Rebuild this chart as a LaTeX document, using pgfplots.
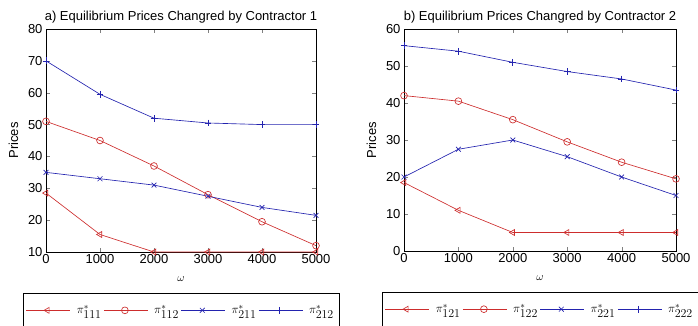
\documentclass[border=0pt]{standalone}
\usepackage{fontspec}
\setmainfont{Liberation Sans}
\usepackage{pgfplots}
\pgfplotsset{compat=1.18}
\definecolor{mred}{RGB}{205,45,45}
\definecolor{mblue}{RGB}{35,35,175}
\newcommand{\lp}[1]{$\pi^{*}_{\textstyle #1}$}
\pgfplotsset{
  mstyle/.style={
    scale only axis,
    xmin=0, xmax=5000,
    xtick={0,1000,2000,3000,4000,5000},
    scaled ticks=false,
    /pgf/number format/assume math mode=true,
    /pgf/number format/1000 sep={},
    tick label style={font=\fontsize{13}{15}\selectfont},
    xticklabel style={yshift=1pt},
    label style={font=\fontsize{13}{15}\selectfont},
    title style={font=\fontsize{13}{15}\selectfont, yshift=-4pt},
    tick align=inside,
    major tick length=4pt,
    xtick pos=both, ytick pos=both,
    axis line style={black, line width=0.6pt},
    xlabel={$\omega$},
    ylabel={Prices},
    xlabel style={yshift=-6pt, font=\fontsize{11}{13}\selectfont},
    ylabel style={yshift=3pt},
    every axis plot/.append style={line width=0.65pt, mark size=3.4pt},
    legend columns=4,
    legend style={
      at={(0.5,-0.184)}, anchor=north,
      draw=black, line width=0.6pt,
      font=\fontsize{12.5}{15}\selectfont,
      inner ysep=10pt, inner xsep=3pt,
      /tikz/every even column/.append style={column sep=0pt},
      /tikz/every odd column/.append style={column sep=4pt},
    },
    legend image code/.code={
      \draw[mark repeat=2,mark phase=2,#1] plot coordinates {(0pt,0pt) (21pt,0pt) (42pt,0pt)};
      \path (42pt,0pt) -- (44pt,0pt);
    },
  }
}
\pgfplotstableread{
x    a111 a112 a211 a212
0    28.5 51   35   70
1000 15.5 45   33   59.5
2000 10   37   31   52
3000 10   28   27.5 50.5
4000 10   19.5 24   50
5000 10   12   21.5 50
}\tA
\pgfplotstableread{
x    b121 b122 b221 b222
0    18.5 42   20   55.5
1000 11   40.5 27.5 54
2000 5    35.5 30   51
3000 5    29.5 25.5 48.5
4000 5    24   20   46.5
5000 5    19.5 15   43.5
}\tB
\begin{document}
\begin{tikzpicture}[x=1pt,y=1pt]
\path[use as bounding box] (0,0) rectangle (698,325);
\begin{axis}[mstyle, at={(46pt,73pt)}, anchor=south west,
  width=270pt, height=223pt,
  ymin=10, ymax=80, ytick={10,20,...,80},
  title={a) Equilibrium Prices Changred by Contractor 1}]
\addplot[mred, mark=triangle, mark options={rotate=90}] table[x=x,y=a111] {\tA};
\addplot[mred, mark=o] table[x=x,y=a112] {\tA};
\addplot[mblue, mark=x] table[x=x,y=a211] {\tA};
\addplot[mblue, mark=+] table[x=x,y=a212] {\tA};
\legend{\lp{111},\lp{112},\lp{211},\lp{212}}
\end{axis}
\begin{axis}[mstyle, at={(404pt,74pt)}, anchor=south west,
  width=272pt, height=222pt,
  ymin=0, ymax=60, ytick={0,10,...,60},
  title={b) Equilibrium Prices Changred by Contractor 2}]
\addplot[mred, mark=triangle, mark options={rotate=90}] table[x=x,y=b121] {\tB};
\addplot[mred, mark=o] table[x=x,y=b122] {\tB};
\addplot[mblue, mark=x] table[x=x,y=b221] {\tB};
\addplot[mblue, mark=+] table[x=x,y=b222] {\tB};
\legend{\lp{121},\lp{122},\lp{221},\lp{222}}
\end{axis}
\end{tikzpicture}
\end{document}
